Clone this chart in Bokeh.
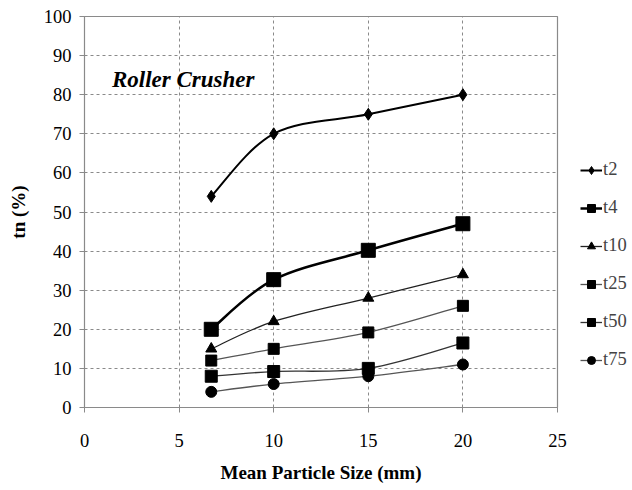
from bokeh.plotting import figure
from bokeh.models import Legend, LegendItem, Label, ColumnDataSource, FixedTicker
from bokeh.embed import file_html
from bokeh.resources import INLINE

sizes = [6.7, 10, 15, 20]
series_names = ["t2", "t4", "t10", "t25", "t50", "t75"]
t2 = [54, 70, 75, 80]
t4 = [20, 32.7, 40.2, 47]
t10 = [15, 22, 28, 34]
t25 = [12, 15, 19.2, 26]
t50 = [8, 9.2, 10, 16.5]
t75 = [4, 6, 8, 11]
x_ticks = [0, 5, 10, 15, 20, 25]
y_ticks = [0, 10, 20, 30, 40, 50, 60, 70, 80, 90, 100]

values = [t2, t4, t10, t25, t50, t75]
markers = ["diamond", "square", "triangle", "square", "square", "circle"]
msizes = [12, 14, 11, 11, 12, 11]
lcolors = ["#000000", "#000000", "#222222", "#555555", "#333333", "#555555"]
lwidths = [2, 2.5, 1.3, 1.3, 1.3, 1.3]

FONT = "Liberation Serif"

p = figure(frame_width=473, frame_height=391, output_backend="svg", toolbar_location=None,
           x_range=(0, 25), y_range=(0, 100),
           min_border_left=84, min_border_right=67, min_border_top=16, min_border_bottom=75)

p.outline_line_color = "#8a8a8a"
p.outline_line_width = 1.2
p.background_fill_color = "white"
p.border_fill_color = "white"

p.axis.axis_line_color = "#8a8a8a"
p.axis.major_tick_line_color = "#8a8a8a"
p.axis.minor_tick_line_color = None
p.axis.major_tick_in = 0
p.axis.major_tick_out = 5
p.xaxis.major_label_text_font = FONT
p.yaxis.major_label_text_font = FONT
p.xaxis.major_label_text_font_size = "18.5px"
p.yaxis.major_label_text_font_size = "18.5px"
p.axis.major_label_text_color = "#000000"
p.axis.axis_label_text_font = FONT
p.axis.axis_label_text_font_style = "bold"
p.axis.axis_label_text_font_size = "19px"
p.axis.axis_label_text_color = "#000000"

p.xaxis.ticker = FixedTicker(ticks=x_ticks)
p.yaxis.ticker = FixedTicker(ticks=y_ticks)
p.xaxis.major_label_standoff = 21
p.yaxis.major_label_standoff = 8
p.xaxis.axis_label = "Mean Particle Size (mm)"
p.yaxis.axis_label = "tn (%)"
p.xaxis.axis_label_standoff = 12
p.yaxis.axis_label_standoff = 12

p.xgrid.grid_line_color = "#8a8a8a"
p.ygrid.grid_line_color = "#8a8a8a"
p.xgrid.grid_line_dash = "3 3"
p.ygrid.grid_line_dash = "3 3"
p.xgrid.grid_line_width = 1
p.ygrid.grid_line_width = 1


def bezier_source(xs, ys):
    n = len(xs)
    d = dict(x0=[], y0=[], x1=[], y1=[], cx0=[], cy0=[], cx1=[], cy1=[])
    for i in range(n - 1):
        xp, yp = (xs[i - 1], ys[i - 1]) if i > 0 else (xs[i], ys[i])
        xn, yn = (xs[i + 2], ys[i + 2]) if i + 2 < n else (xs[i + 1], ys[i + 1])
        d["x0"].append(xs[i]); d["y0"].append(ys[i])
        d["x1"].append(xs[i + 1]); d["y1"].append(ys[i + 1])
        d["cx0"].append(xs[i] + (xs[i + 1] - xp) / 6)
        d["cy0"].append(ys[i] + (ys[i + 1] - yp) / 6)
        d["cx1"].append(xs[i + 1] - (xn - xs[i]) / 6)
        d["cy1"].append(ys[i + 1] - (yn - ys[i]) / 6)
    return ColumnDataSource(d)


items = []
for name, ys, mk, ms, lc, lw in zip(series_names, values, markers, msizes, lcolors, lwidths):
    src = bezier_source(sizes, ys)
    br = p.bezier(x0="x0", y0="y0", x1="x1", y1="y1", cx0="cx0", cy0="cy0",
                  cx1="cx1", cy1="cy1", source=src, line_color=lc, line_width=lw)
    sr = p.scatter(x=sizes, y=ys, marker=mk, size=ms, fill_color="black",
                   line_color="black", line_width=1)
    items.append(LegendItem(label=name, renderers=[br, sr]))

legend = Legend(items=items, location=(23, 37), orientation="vertical",
                label_text_font=FONT, label_text_font_size="18.5px",
                glyph_width=22, glyph_height=20, label_standoff=1, spacing=17,
                padding=0, margin=0, border_line_color=None,
                background_fill_alpha=0)
p.add_layout(legend, "right")

p.add_layout(Label(x=1.45, y=84, text="Roller Crusher", text_font=FONT,
                   text_font_style="bold italic", text_font_size="23px",
                   text_baseline="middle", text_color="black"))

open("out.html", "w").write(file_html(p, INLINE))
